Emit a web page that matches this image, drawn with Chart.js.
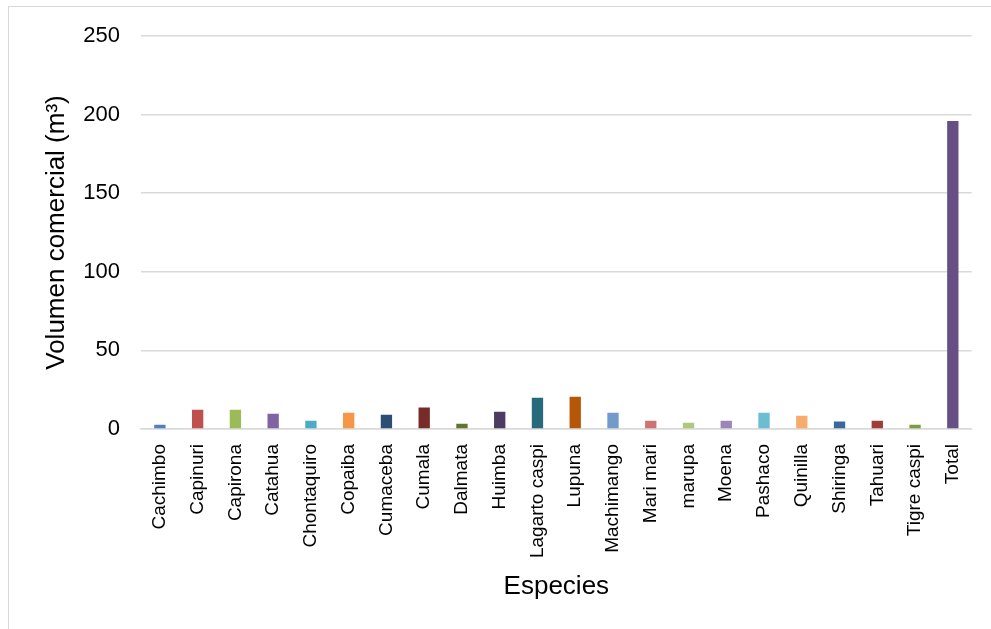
<!DOCTYPE html>
<html>
<head>
<meta charset="utf-8">
<script src="https://cdn.jsdelivr.net/npm/chart.js@4"></script>
<style>
  html, body { margin: 0; padding: 0; background: #fff; overflow: hidden; }
  #frame { position: absolute; left: 8px; top: 6px; width: 1100px; height: 700px; border: 1.5px solid #d9d9d9; }
  #wrap { position: absolute; left: 0; top: 0; width: 991px; height: 629px; }
</style>
</head>
<body>
<div id="frame"></div>
<div id="wrap"><canvas id="chart"></canvas></div>
<script>
// species on the x axis
const especies = ['Cachimbo', 'Capinuri', 'Capirona', 'Catahua', 'Chontaquiro', 'Copaiba', 'Cumaceba',
    'Cumala', 'Dalmata', 'Huimba', 'Lagarto caspi', 'Lupuna', 'Machimango', 'Mari mari', 'marupa',
    'Moena', 'Pashaco', 'Quinilla', 'Shiringa', 'Tahuari', 'Tigre caspi', 'Total'];

// commercial volume (m3)
const volumen = [2.7, 12.3, 12.3, 9.7, 5.3, 10.4, 9.1, 13.6, 3.4, 11.0, 19.9, 20.5, 10.4, 5.3, 4.0,
    5.3, 10.4, 8.5, 4.7, 5.3, 2.7, 196];

const colores = ['#4F81BD', '#C0504D', '#9BBB59', '#8064A2', '#4BACC6', '#F79646', '#2C4D75',
    '#772C2A', '#5F7530', '#4D3B62', '#276A7C', '#B65708', '#729ACA', '#CD7371', '#AFC97A',
    '#9C86B6', '#6CBCD2', '#F9AB6B', '#3A679C', '#A23C3B', '#7D9A3E', '#654F84'];

const yMin = 0;
const yMax = 250;
const yStep = 50;

const fuente = "'Liberation Sans', Arial, sans-serif";

new Chart(document.getElementById('chart').getContext('2d'), {
    type: 'bar',
    data: {
        labels: especies,
        datasets: [{
            label: 'Volumen comercial',
            data: volumen,
            backgroundColor: colores,
            barPercentage: 0.3,
            categoryPercentage: 1
        }]
    },
    options: {
        responsive: true,
        maintainAspectRatio: false,
        animation: false,
        layout: {
            padding: { top: 36, right: 17, bottom: 20, left: 30 }
        },
        plugins: {
            legend: { display: false },
            tooltip: { enabled: false }
        },
        scales: {
            x: {
                grid: { display: false, drawTicks: false },
                border: { display: true, color: '#d9d9d9', width: 1.5 },
                ticks: {
                    color: '#000',
                    font: { family: fuente, size: 19 },
                    minRotation: 90,
                    maxRotation: 90,
                    autoSkip: false,
                    padding: 15
                },
                title: {
                    display: true,
                    text: 'Especies',
                    color: '#000',
                    font: { family: fuente, size: 26 },
                    padding: { top: 0, bottom: 7 }
                },
                afterFit: (scale) => { scale.height = 629 - 429 - 20; }
            },
            y: {
                min: yMin,
                max: yMax,
                grid: { color: '#d9d9d9', lineWidth: 1.5, drawTicks: false },
                border: { display: false },
                ticks: {
                    stepSize: yStep,
                    color: '#000',
                    font: { family: fuente, size: 22 },
                    padding: 21
                },
                title: {
                    display: true,
                    text: 'Volumen comercial (m³)',
                    color: '#000',
                    font: { family: fuente, size: 26 },
                    padding: { top: 11, bottom: 0 }
                },
                afterFit: (scale) => { scale.width = 141 - 30; }
            }
        }
    }
});
</script>
</body>
</html>
